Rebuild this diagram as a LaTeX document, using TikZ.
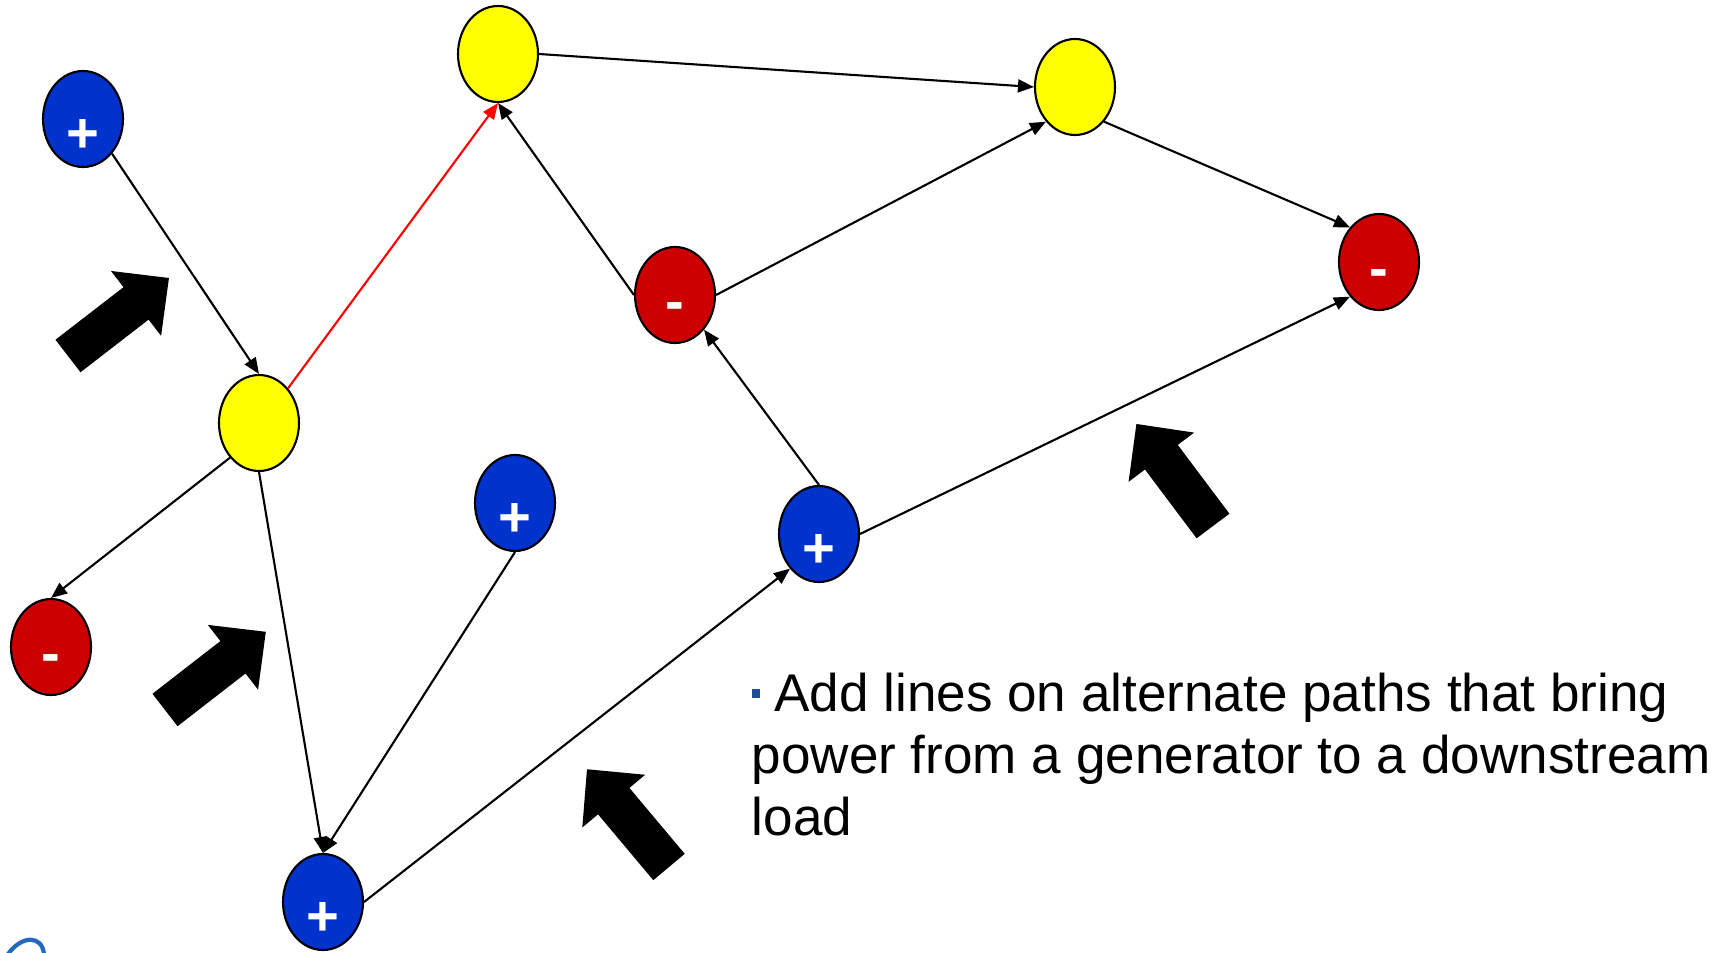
\documentclass[tikz,border=0pt]{standalone}
\usepackage{fontspec}
\setmainfont{Liberation Sans}
\usetikzlibrary{arrows.meta,shapes.geometric}
\definecolor{genblue}{RGB}{0,51,204}
\definecolor{loadred}{RGB}{204,0,0}
\definecolor{busyellow}{RGB}{255,255,0}
\definecolor{bulletblue}{RGB}{31,78,153}
\definecolor{logoblue}{RGB}{38,104,190}

\tikzset{
  bus/.style={ellipse, draw, line width=0.6pt, minimum width=0.8cm, minimum height=0.96cm, inner sep=0pt},
  sign/.style={text=white, font=\fontsize{16}{19}\selectfont\bfseries, anchor=base, inner sep=0pt},
  gen/.style={bus, fill=genblue, label={[sign, yshift=-1.75mm]center:+}},
  load/.style={bus, fill=loadred, label={[sign, yshift=-1.7mm]center:-}},
  mid/.style={bus, fill=busyellow},
  line/.style={-{Triangle[length=1.6mm, width=1.3mm]}, line width=0.6pt},
}

% thick block arrow: tail centre, angle
\newcommand{\fatarrow}[2]{%
  \fill[shift={(#1)}, rotate=#2] (0,-0.205) -- (0.86,-0.205) -- (0.86,-0.41) -- (1.276,0)
    -- (0.86,0.41) -- (0.86,0.205) -- (0,0.205) -- cycle;}

\begin{document}
\begin{tikzpicture}
    \useasboundingbox (0,0) rectangle (17.29,9.52);

    % Buses
    \node[gen] (g1) at (0.83,8.33) {};
    \node[mid] (m1) at (4.98,8.98) {};
    \node[mid] (m2) at (10.75,8.65) {};
    \node[load] (l1) at (13.79,6.90) {};
    \node[mid] (m3) at (2.59,5.29) {};
    \node[load] (l2) at (6.75,6.57) {};
    \node[gen] (g2) at (5.15,4.49) {};
    \node[gen] (g3) at (8.19,4.18) {};
    \node[load] (l3) at (0.51,3.05) {};
    \node[gen] (g4) at (3.23,0.50) {};

    % Lines
    \draw[line] (g1.south east) -- (m3.north);
    \draw[line, red] (m3.north east) -- (m1.south);
    \draw[line] (m3.south west) -- (l3.north);
    \draw[line] (m3.south) -- (g4.north);
    \draw[line] (g2.south) -- (g4.north);
    \draw[line] (g4.east) -- (g3.south west);
    \draw[line] (g3.north) -- (l2.south east);
    \draw[line] (g3.east) -- (l1.south west);
    \draw[line] (l2.west) -- (m1.south);
    \draw[line] (l2.east) -- (m2.south west);
    \draw[line] (m1.east) -- (m2.west);
    \draw[line] (m2.south east) -- (l1.north west);

    % Block arrows
    \fatarrow{0.68,5.96}{37.7}
    \fatarrow{1.65,2.42}{37.8}
    \fatarrow{6.69,0.85}{130}
    \fatarrow{12.13,4.26}{126.9}

    % Note (base is the last line)
    \node[anchor=base west, inner sep=0pt, align=left, font=\fontsize{15.1}{17.6}\selectfont] (note) at (7.51,1.17)
        {\raisebox{0.13cm}{\color{bulletblue}\rule{0.08cm}{0.09cm}} Add lines on alternate paths that bring\\
         power from a generator to a downstream\\
         load};

    % Logo corner
    \draw[logoblue, line width=1.2pt] (0.08,-0.02) .. controls (0.22,0.17) and (0.42,0.17) .. (0.44,-0.02);
\end{tikzpicture}
\end{document}
